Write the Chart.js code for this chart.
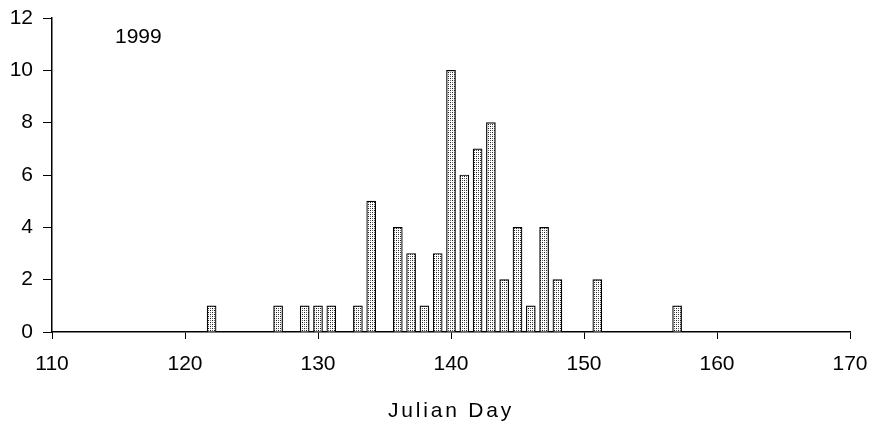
<!DOCTYPE html>
<html>
<head>
<meta charset="utf-8">
<script src="https://cdn.jsdelivr.net/npm/chart.js@4/dist/chart.umd.min.js"></script>
<style>
  html, body { margin: 0; padding: 0; background: #fff; }
  #wrap { position: relative; width: 875px; height: 429px; }
  #yr { position: absolute; left: 115px; top: 24px; font: 21px "Liberation Sans", Arial, sans-serif; color: #000; }
  #xt { position: absolute; left: 251px; width: 400px; top: 398px; text-align: center; font: 21px "Liberation Sans", Arial, sans-serif; letter-spacing: 2.8px; color: #000; }
</style>
</head>
<body>
<div id="wrap">
  <canvas id="c" width="875" height="429"></canvas>
  <div id="yr">1999</div>
  <div id="xt"></div>
</div>
<script>
const days   = [122, 127, 129, 130, 131, 133, 134, 136, 137, 138, 139, 140, 141, 142, 143, 144, 145, 146, 147, 148, 151, 157];
const counts = [1,   1,   1,   1,   1,   1,   5,   4,   3,   1,   3,   10,  6,   7,   8,   2,   4,   1,   4,   2,   2,   1];
const xTicks = [110, 120, 130, 140, 150, 160, 170];
const yTicks = [0, 2, 4, 6, 8, 10, 12];
const xTitle = "Julian Day";
document.getElementById('xt').textContent = xTitle;

function makePattern() {
  const p = document.createElement('canvas');
  p.width = 4; p.height = 4;
  const g = p.getContext('2d');
  g.fillStyle = '#ffffff';
  g.fillRect(0, 0, 4, 4);
  g.fillStyle = '#1a1a1a';
  g.fillRect(0, 0, 1, 1);
  g.fillRect(2, 2, 1, 1);
  g.fillStyle = '#666666';
  g.fillRect(2, 0, 1, 1);
  g.fillRect(0, 2, 1, 1);
  return document.getElementById('c').getContext('2d').createPattern(p, 'repeat');
}

const font = { family: '"Liberation Sans", Arial, sans-serif' };

new Chart(document.getElementById('c'), {
  type: 'bar',
  data: {
    datasets: [{
      data: days.map((d, i) => ({ x: d, y: counts[i] })),
      backgroundColor: makePattern(),
      borderColor: '#000',
      borderWidth: 1.2,
      barThickness: 9
    }]
  },
  options: {
    responsive: false,
    animation: false,
    layout: { padding: { top: 18, right: 25, bottom: 0, left: 0 } },
    plugins: { legend: { display: false }, tooltip: { enabled: false } },
    scales: {
      x: {
        type: 'linear',
        offset: false,
        min: 110, max: 170,
        afterBuildTicks: s => { s.ticks = xTicks.map(v => ({ value: v })); },
        afterFit: s => { s.height = 97; s.paddingLeft = 0; s.paddingRight = 0; },
        grid: { offset: false, drawOnChartArea: false, drawTicks: true, tickLength: 7, color: '#000' },
        border: { display: true, color: '#000', width: 1.5 },
        ticks: { color: '#000', font: { ...font, size: 21 }, padding: 13, maxRotation: 0 }
      },
      y: {
        min: 0, max: 12,
        afterBuildTicks: s => { s.ticks = yTicks.map(v => ({ value: v })); },
        afterFit: s => { s.width = 52; s.paddingTop = 0; s.paddingBottom = 0; },
        grid: { drawOnChartArea: false, drawTicks: true, tickLength: 9, color: '#000' },
        border: { display: true, color: '#000', width: 1.5 },
        ticks: { color: '#000', font: { ...font, size: 21 }, padding: 10 }
      }
    }
  }
});
</script>
</body>
</html>
